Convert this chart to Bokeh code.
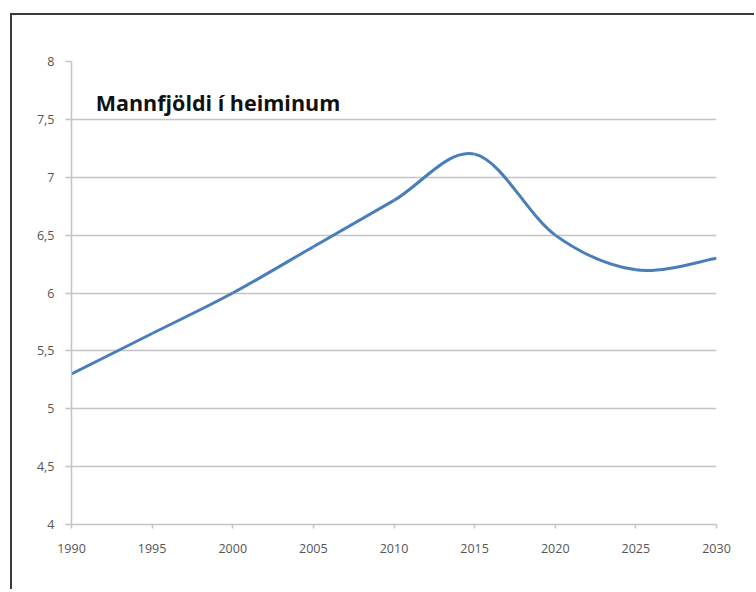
from bokeh.plotting import figure
from bokeh.models import Range1d, FixedTicker, Label
from bokeh.embed import file_html
from bokeh.resources import INLINE

# ---- data ----
years = [1990, 1995, 2000, 2005, 2010, 2015, 2020, 2025, 2030]
population = [5.3, 5.65, 6.0, 6.4, 6.8, 7.2, 6.5, 6.2, 6.3]

x_ticks = [1990, 1995, 2000, 2005, 2010, 2015, 2020, 2025, 2030]
x_tick_labels = ["1990", "1995", "2000", "2005", "2010", "2015", "2020", "2025", "2030"]
y_ticks = [4, 4.5, 5, 5.5, 6, 6.5, 7, 7.5, 8]
y_tick_labels = ["4", "4,5", "5", "5,5", "6", "6,5", "7", "7,5", "8"]

title_text = "Mannfjöldi í heiminum"

# ---- smoothed line (Excel-style Catmull-Rom Bezier segments) ----
n = len(years)
x0, y0, x1, y1, cx0, cy0, cx1, cy1 = [], [], [], [], [], [], [], []
for i in range(n - 1):
    pm = (years[max(i - 1, 0)], population[max(i - 1, 0)])
    pa = (years[i], population[i])
    pb = (years[i + 1], population[i + 1])
    pp = (years[min(i + 2, n - 1)], population[min(i + 2, n - 1)])
    x0.append(pa[0]); y0.append(pa[1])
    x1.append(pb[0]); y1.append(pb[1])
    cx0.append(pa[0] + (pb[0] - pm[0]) / 6.0)
    cy0.append(pa[1] + (pb[1] - pm[1]) / 6.0)
    cx1.append(pb[0] - (pp[0] - pa[0]) / 6.0)
    cy1.append(pb[1] - (pp[1] - pa[1]) / 6.0)

p = figure(
    width=744, height=576,
    x_range=Range1d(1990, 2030), y_range=Range1d(4, 8),
    output_backend="svg", toolbar_location=None,
    min_border_left=59, min_border_right=40,
    min_border_top=46, min_border_bottom=67,
)
p.styles = {
    "margin-left": "12px", "margin-top": "15px",
    "box-shadow": "-2px -2px 0px 0px #3a3a3a",
    "overflow": "hidden",
}
p.outline_line_color = None
p.background_fill_color = "white"
p.border_fill_color = "white"

p.bezier(x0=x0, y0=y0, x1=x1, y1=y1, cx0=cx0, cy0=cy0, cx1=cx1, cy1=cy1,
         line_color="#4a7ebb", line_width=3)

# grid
p.xgrid.grid_line_color = None
p.ygrid.grid_line_color = "#c4c4c4"
p.ygrid.grid_line_width = 1.5
p.ygrid.ticker = FixedTicker(ticks=y_ticks)

# axes
label_font = "Open Sans"
for ax in (p.xaxis[0], p.yaxis[0]):
    ax.axis_line_color = "#c4c4c4"
    ax.axis_line_width = 1.5
    ax.major_tick_line_color = "#c4c4c4"
    ax.major_tick_line_width = 1.5
    ax.minor_tick_line_color = None
    ax.major_tick_in = 0
    ax.major_label_text_font = label_font
    ax.major_label_text_font_size = "12.5px"
    ax.major_label_text_color = "#555555"

p.xaxis.ticker = FixedTicker(ticks=x_ticks)
p.xaxis.major_label_overrides = {t: l for t, l in zip(x_ticks, x_tick_labels)}
p.xaxis.major_tick_out = 4
p.xaxis.major_label_standoff = 15

p.yaxis.ticker = FixedTicker(ticks=y_ticks)
p.yaxis.major_label_overrides = {t: l for t, l in zip(y_ticks, y_tick_labels)}
p.yaxis.major_tick_out = 6
p.yaxis.major_label_standoff = 11

p.add_layout(Label(x=1991.5, y=7.646, text=title_text,
                   text_font="Open Sans", text_font_size="21.5px",
                   text_font_style="bold", text_color="#111111",
                   text_baseline="alphabetic", text_align="left"))

open("out.html", "w").write(file_html(p, INLINE))
